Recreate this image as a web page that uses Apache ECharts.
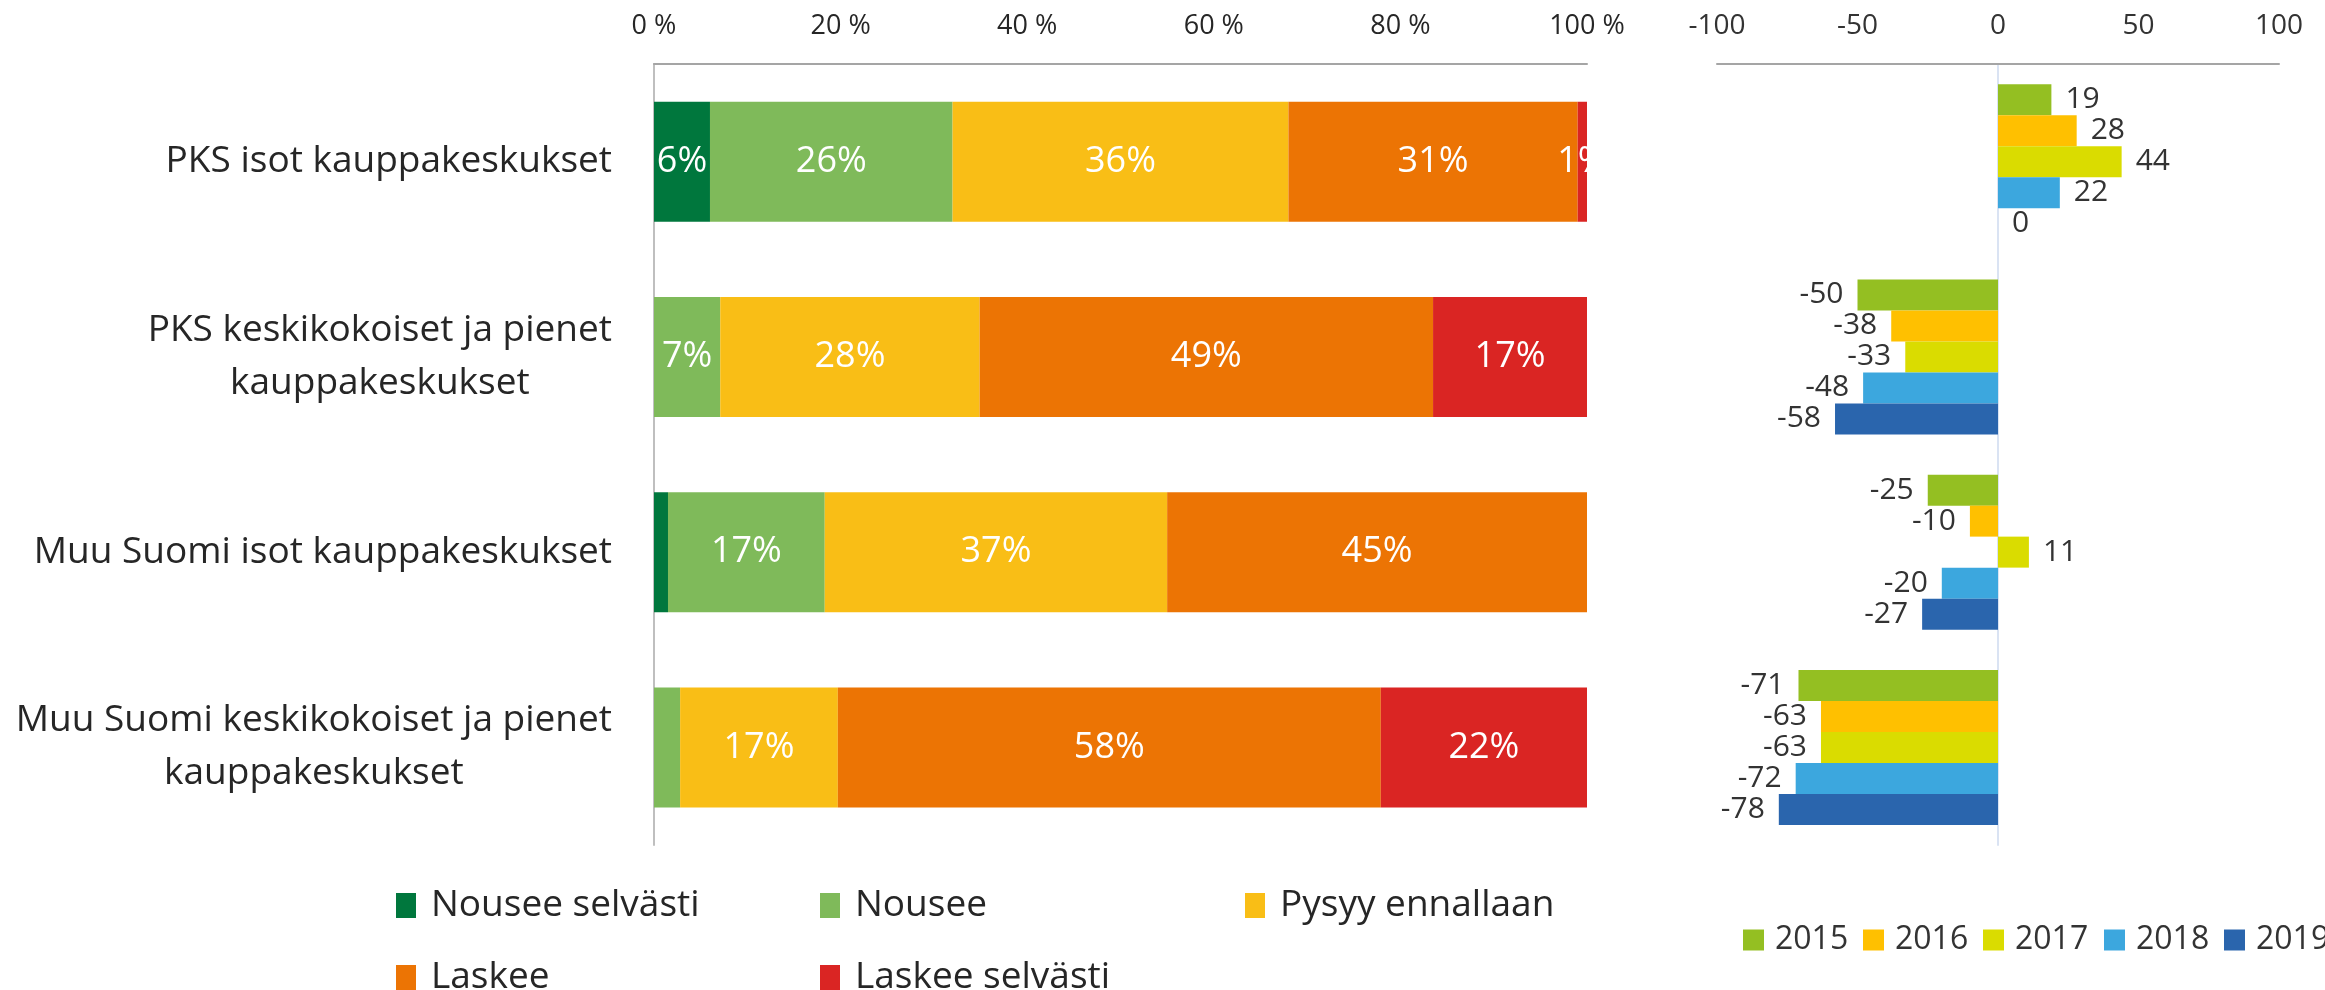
<!DOCTYPE html>
<html>
<head>
<meta charset="utf-8">
<title>Kauppakeskukset</title>
<script src="https://cdn.jsdelivr.net/npm/echarts@6/dist/echarts.min.js"></script>
<style>
    html, body { margin: 0; padding: 0; background: #fff; }
    #chart { width: 2325px; height: 990px; }
</style>
</head>
<body>
<div id="chart"></div>
<script>
    const categories = [
        'PKS isot kauppakeskukset',
        'PKS keskikokoiset ja pienet\nkauppakeskukset',
        'Muu Suomi isot kauppakeskukset',
        'Muu Suomi keskikokoiset ja pienet\nkauppakeskukset'
    ];

    // vasen kuva: vastausten osuudet (%)
    const answerNames = ['Nousee selvästi', 'Nousee', 'Pysyy ennallaan', 'Laskee', 'Laskee selvästi'];
    const nouseeSelvasti = [6, 0, 1.5, 0];
    const nousee = [26, 7.1, 16.8, 2.8];
    const pysyy = [36, 27.8, 36.7, 16.9];
    const laskee = [31, 48.6, 45.0, 58.2];
    const laskeeSelvasti = [1, 16.5, 0, 22.1];
    const answerColors = ['#00773d', '#7fba5a', '#f9be16', '#ec7404', '#da2523'];
    const hiddenLabels = [[0, 2], [1, 3]]; // [sarja, kategoria], ei arvoa kuvassa

    // oikea kuva: saldoluvut vuosittain
    const years = ['2015', '2016', '2017', '2018', '2019'];
    const saldo2015 = [19, -50, -25, -71];
    const saldo2016 = [28, -38, -10, -63];
    const saldo2017 = [44, -33, 11, -63];
    const saldo2018 = [22, -48, -20, -72];
    const saldo2019 = [0, -58, -27, -78];
    const yearColors = ['#94bf22', '#ffc000', '#dadc00', '#3ca7de', '#2a65ad'];

    const pctMin = 0, pctMax = 100, pctStep = 20;
    const saldoMin = -100, saldoMax = 100, saldoStep = 50;

    const font = "'Open Sans', sans-serif";
    const textColor = '#262626';

    const answerData = [nouseeSelvasti, nousee, pysyy, laskee, laskeeSelvasti];
    const yearData = [saldo2015, saldo2016, saldo2017, saldo2018, saldo2019];

    const answerLegendPos = [[396, 887], [820, 887], [1245, 887], [396, 959], [820, 959]];
    const yearLegendLeft = [1743, 1863, 1983, 2104, 2224];

    const isHidden = (s, c) => hiddenLabels.some(h => h[0] === s && h[1] === c);

    const answerSeries = answerNames.map((name, s) => ({
        name: name,
        type: 'bar',
        stack: 'osuus',
        xAxisIndex: 0,
        yAxisIndex: 0,
        barWidth: 120,
        itemStyle: { color: answerColors[s] },
        label: {
            show: true,
            position: 'inside',
            color: '#fff',
            fontSize: 36,
            fontFamily: font,
            formatter: p => (p.value === 0 || isHidden(s, p.dataIndex)) ? '' : Math.round(p.value) + '%'
        },
        data: answerData[s]
    }));

    const yearSeries = years.map((name, s) => ({
        name: name,
        type: 'bar',
        xAxisIndex: 1,
        yAxisIndex: 1,
        barWidth: 31,
        barGap: '0%',
        itemStyle: { color: yearColors[s] },
        label: {
            show: true,
            distance: 14,
            color: '#333',
            fontSize: 30,
            fontFamily: font
        },
        data: yearData[s].map(v => ({ value: v, label: { position: v < 0 ? 'left' : 'right' } }))
    }));

    const legends = answerNames.map((name, i) => ({
        data: [name],
        left: answerLegendPos[i][0],
        top: answerLegendPos[i][1],
        padding: 0,
        icon: 'rect',
        itemWidth: 20,
        itemHeight: 25,
        textStyle: { fontSize: 37, lineHeight: 37, fontFamily: font, color: textColor, padding: [0, 0, 0, 10] }
    })).concat(years.map((name, i) => ({
        data: [name],
        left: yearLegendLeft[i],
        top: 924,
        padding: 0,
        icon: 'rect',
        itemWidth: 21,
        itemHeight: 21,
        textStyle: { fontSize: 32, lineHeight: 32, fontFamily: font, color: '#333', padding: [0, 0, 0, 6] }
    })));

    const chart = echarts.init(document.getElementById('chart'));
    chart.setOption({
        animation: false,
        grid: [
            { left: 654, top: 64, width: 933, height: 781 },
            { left: 1717, top: 64, width: 562, height: 781 }
        ],
        xAxis: [{
            gridIndex: 0,
            type: 'value',
            position: 'top',
            min: pctMin,
            max: pctMax,
            interval: pctStep,
            axisLine: { show: true, lineStyle: { color: '#a5a5a5', width: 2 } },
            axisTick: { show: false },
            splitLine: { show: false },
            axisLabel: { formatter: '{value} %', fontSize: 27, fontFamily: font, color: textColor, margin: 24 }
        }, {
            gridIndex: 1,
            type: 'value',
            position: 'top',
            min: saldoMin,
            max: saldoMax,
            interval: saldoStep,
            axisLine: { show: true, lineStyle: { color: '#a5a5a5', width: 2 } },
            axisTick: { show: false },
            splitLine: { show: false },
            axisLabel: { fontSize: 28, fontFamily: font, color: '#333', margin: 24 }
        }],
        yAxis: [{
            gridIndex: 0,
            type: 'category',
            data: categories,
            inverse: true,
            axisLine: { lineStyle: { color: '#bfbfbf', width: 2 } },
            axisTick: { show: false },
            axisLabel: {
                margin: 42,
                formatter: v => v.split('\n').map(l => '{c|' + l + '}').join('\n'),
                rich: {
                    c: { align: 'center', fontSize: 37, lineHeight: 53, fontFamily: font, color: textColor }
                }
            }
        }, {
            gridIndex: 1,
            type: 'category',
            data: categories,
            inverse: true,
            axisLine: { lineStyle: { color: '#dae3f3', width: 2 } },
            axisTick: { show: false },
            axisLabel: { show: false }
        }],
        legend: legends,
        series: answerSeries.concat(yearSeries)
    });
</script>
</body>
</html>
